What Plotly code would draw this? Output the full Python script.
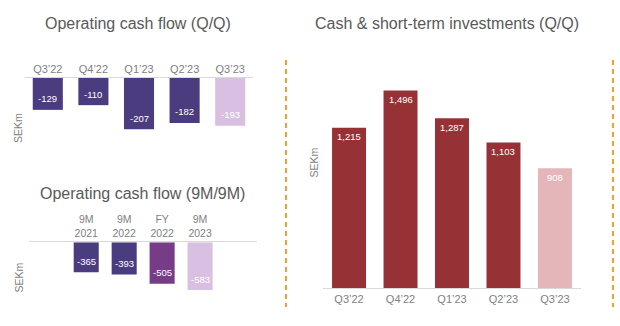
import plotly.graph_objects as go

# ---- data ----
q_cats = ["Q3’22", "Q4’22", "Q1’23", "Q2’23", "Q3’23"]
ocf_q = [-129, -110, -207, -182, -193]
ocf_q_colors = ["#4B3C7F", "#4B3C7F", "#4B3C7F", "#4B3C7F", "#D9C0E2"]

m9_cats = ["9M<br>2021", "9M<br>2022", "FY<br>2022", "9M<br>2023"]
ocf_9m = [-365, -393, -505, -583]
ocf_9m_colors = ["#4B3C7F", "#4B3C7F", "#763C87", "#D9C0E2"]

cash_q = [1215, 1496, 1287, 1103, 908]
cash_colors = ["#963236", "#963236", "#963236", "#963236", "#E5B6B9"]

W, H = 620, 326
FONT = "Liberation Sans"
GREY = "#7F7F7F"
TITLE = "#595959"
LINE = "#D9D9D9"


def px_x(p):
    return p / W


def px_y(p):
    return 1 - p / H


fig = go.Figure()

fig.add_trace(go.Bar(x=q_cats, y=ocf_q, marker=dict(color=ocf_q_colors, line=dict(width=0)),
                     xaxis="x", yaxis="y", hoverinfo="skip"))
fig.add_trace(go.Bar(x=m9_cats, y=ocf_9m, marker=dict(color=ocf_9m_colors, line=dict(width=0)),
                     xaxis="x2", yaxis="y2", hoverinfo="skip"))
fig.add_trace(go.Bar(x=q_cats, y=cash_q, marker=dict(color=cash_colors, line=dict(width=0)),
                     xaxis="x3", yaxis="y3", hoverinfo="skip"))

annotations = []


def fmt(v):
    return f"{v:,}"


for c, v in zip(q_cats, ocf_q):
    annotations.append(dict(x=c, y=v, xref="x", yref="y", text=fmt(v), showarrow=False,
                            yanchor="middle", yshift=11, font=dict(size=9.5, color="white", family=FONT)))
for c, v in zip(m9_cats, ocf_9m):
    annotations.append(dict(x=c, y=v, xref="x2", yref="y2", text=fmt(v), showarrow=False,
                            yanchor="middle", yshift=11, font=dict(size=9.5, color="white", family=FONT)))
for c, v in zip(q_cats, cash_q):
    annotations.append(dict(x=c, y=v, xref="x3", yref="y3", text=fmt(v), showarrow=False,
                            yanchor="middle", yshift=-9, font=dict(size=9.5, color="white", family=FONT)))

# titles
for txt, cx, cy in [("Operating cash flow (Q/Q)", 137.5, 23),
                    ("Operating cash flow (9M/9M)", 142.5, 193),
                    ("Cash & short-term investments (Q/Q)", 446.7, 23)]:
    annotations.append(dict(x=px_x(cx), y=px_y(cy), xref="paper", yref="paper", text=txt,
                            showarrow=False, xanchor="center", yanchor="middle",
                            font=dict(size=16, color=TITLE, family=FONT)))

# SEKm labels
for cx, cy in [(18, 128), (18, 277.5), (313, 162.5)]:
    annotations.append(dict(x=px_x(cx), y=px_y(cy), xref="paper", yref="paper", text="SEKm",
                            showarrow=False, textangle=-90, xanchor="center", yanchor="middle",
                            font=dict(size=10.5, color=GREY, family=FONT)))

shapes = []
for cx in [286, 613]:
    shapes.append(dict(type="line", xref="paper", yref="paper", x0=px_x(cx), x1=px_x(cx),
                       y0=px_y(60), y1=px_y(307),
                       line=dict(color="#F0A030", width=2, dash="5px,4px")))

axis_common = dict(showgrid=False, zeroline=False, ticks="", fixedrange=True)

fig.update_layout(
    width=W, height=H,
    margin=dict(l=0, r=0, t=0, b=0),
    paper_bgcolor="white", plot_bgcolor="white",
    showlegend=False,
    bargap=0.34,
    font=dict(family=FONT, color=GREY),
    xaxis=dict(domain=[px_x(25), px_x(253)], anchor="y", side="top", range=[-0.5, 4.5],
               showline=True, linecolor=LINE, linewidth=1,
               tickfont=dict(size=11, color=GREY, family=FONT), **axis_common),
    yaxis=dict(domain=[px_y(142), px_y(78)], anchor="x", range=[-64 / 0.247, 0],
               showticklabels=False, showline=False, **axis_common),
    xaxis2=dict(domain=[px_x(29.3), px_x(257)], anchor="y2", side="top", range=[-1.5, 4.5],
                showline=True, linecolor=LINE, linewidth=1,
                tickfont=dict(size=10.5, color=GREY, family=FONT), **axis_common),
    yaxis2=dict(domain=[px_y(305), px_y(242.3)], anchor="x2", range=[-62.7 / 0.082, 0],
                showticklabels=False, showline=False, **axis_common),
    xaxis3=dict(domain=[px_x(323.3), px_x(580.7)], anchor="y3", side="bottom", range=[-0.5, 4.5],
                showline=True, linecolor=LINE, linewidth=1,
                tickfont=dict(size=11, color=GREY, family=FONT), **axis_common),
    yaxis3=dict(domain=[px_y(288.3), px_y(80)], anchor="x3", range=[0, 208.3 / 0.1322],
                showticklabels=False, showline=False, **axis_common),
    annotations=annotations,
    shapes=shapes,
)

fig.write_html("out.html")
